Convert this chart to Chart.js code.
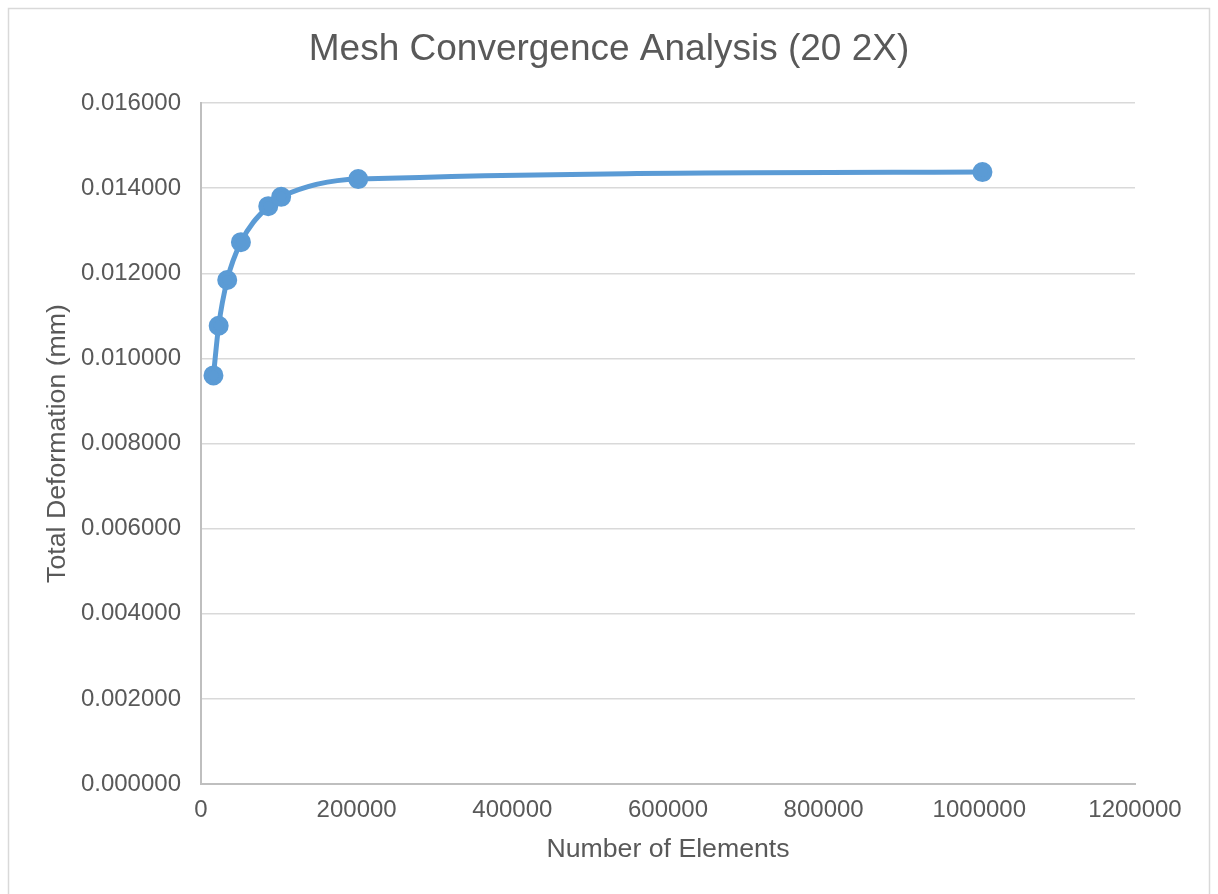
<!DOCTYPE html>
<html>
<head>
<meta charset="utf-8">
<script src="https://cdn.jsdelivr.net/npm/chart.js@4/dist/chart.umd.min.js"></script>
<style>
  html, body { margin: 0; padding: 0; background: #fff; }
  #wrap { width: 1218px; height: 894px; }
</style>
</head>
<body>
<div id="wrap"><canvas id="meshChart" width="1218" height="894"></canvas></div>
<script>
const elementCounts = [16000, 22700, 33700, 51300, 86400, 103000, 202000, 1004000];
const deformations = [0.009600, 0.010767, 0.011842, 0.012730, 0.013576, 0.013795, 0.014212, 0.014376];
const xTicks = [0, 200000, 400000, 600000, 800000, 1000000, 1200000];
const yTicks = [0, 0.002, 0.004, 0.006, 0.008, 0.010, 0.012, 0.014, 0.016];

const points = elementCounts.map((x, i) => ({ x: x, y: deformations[i] }));

const chartTitle = "Mesh Convergence Analysis (20 2X)";
const textColor = "#595959";
const fontFamily = "'Liberation Sans', Arial, sans-serif";

// white background, thin outer frame, and the title centred on the whole canvas
const frame = {
  id: "frame",
  beforeDraw(chart) {
    const c = chart.ctx;
    c.save();
    c.fillStyle = "#fff";
    c.fillRect(0, 0, chart.width, chart.height);
    c.strokeStyle = "#d9d9d9";
    c.lineWidth = 1.5;
    c.strokeRect(8.5, 8.5, 1201, 900);
    c.fillStyle = textColor;
    c.font = "37px " + fontFamily;
    c.textAlign = "center";
    c.textBaseline = "middle";
    c.fillText(chartTitle, chart.width / 2, 50);
    c.restore();
  }
};

new Chart(document.getElementById("meshChart"), {
  type: "scatter",
  data: {
    datasets: [{
      data: points,
      showLine: true,
      borderColor: "#5b9bd5",
      backgroundColor: "#5b9bd5",
      borderWidth: 5,
      pointRadius: 7.5,
      pointHoverRadius: 7.5,
      cubicInterpolationMode: "monotone"
    }]
  },
  options: {
    responsive: false,
    animation: false,
    layout: { padding: { left: 0, right: 83, top: 103, bottom: 0 } },
    plugins: {
      legend: { display: false },
      tooltip: { enabled: false },
      title: { display: false }
    },
    scales: {
      x: {
        type: "linear",
        min: 0,
        max: 1200000,
        afterBuildTicks: s => { s.ticks = xTicks.map(v => ({ value: v })); },
        afterFit: s => { s.height = 110; },
        grid: { display: false, drawTicks: false },
        border: { display: true, color: "#bfbfbf", width: 2 },
        ticks: {
          color: textColor,
          font: { family: fontFamily, size: 24 },
          padding: 12,
          maxRotation: 0,
          callback: v => String(v)
        },
        title: {
          display: true,
          text: "Number of Elements",
          color: textColor,
          font: { family: fontFamily, size: 26.7 },
          padding: { top: 0, bottom: 28 }
        }
      },
      y: {
        min: 0,
        max: 0.016,
        afterBuildTicks: s => { s.ticks = yTicks.map(v => ({ value: v })); },
        afterFit: s => { s.width = 201; },
        grid: { color: "#d9d9d9", lineWidth: 1.5, drawTicks: false },
        border: { display: true, color: "#bfbfbf", width: 2 },
        ticks: {
          color: textColor,
          font: { family: fontFamily, size: 24 },
          padding: 20,
          callback: v => v.toFixed(6)
        },
        title: {
          display: true,
          text: "Total Deformation (mm)",
          color: textColor,
          font: { family: fontFamily, size: 26.7 },
          padding: { top: 42, bottom: 0 }
        }
      }
    }
  },
  plugins: [frame]
});
</script>
</body>
</html>
